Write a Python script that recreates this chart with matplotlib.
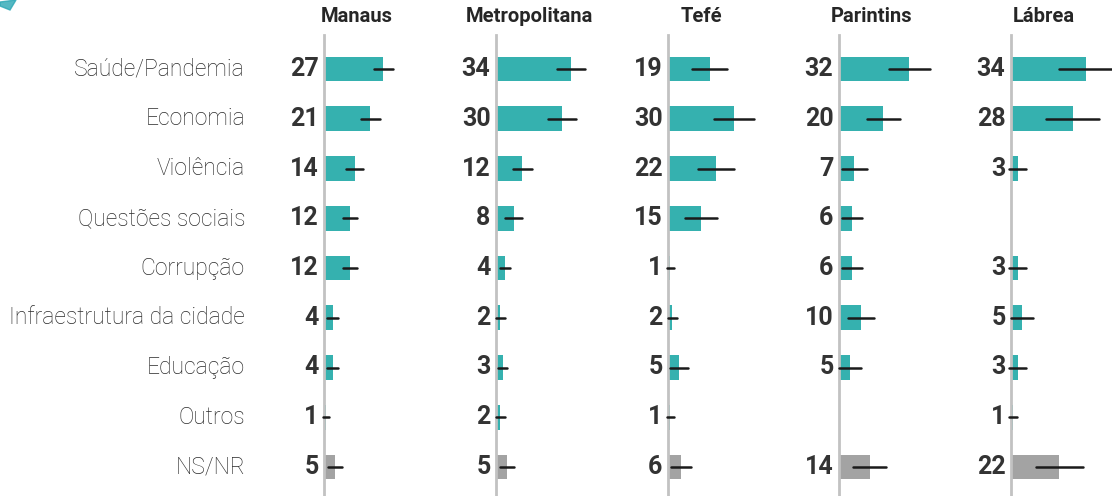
import numpy as np
import matplotlib
matplotlib.use('Agg')
import matplotlib.pyplot as plt
from matplotlib.patches import Polygon

# Categories and regions
categories = ['Saúde/Pandemia', 'Economia', 'Violência', 'Questões sociais', 'Corrupção',
              'Infraestrutura da cidade', 'Educação', 'Outros', 'NS/NR']
regions = ['Manaus', 'Metropolitana', 'Tefé', 'Parintins', 'Lábrea']

# Percent values per region (None = not shown)
manaus = [27, 21, 14, 12, 12, 4, 4, 1, 5]
metropolitana = [34, 30, 12, 8, 4, 2, 3, 2, 5]
tefe = [19, 30, 22, 15, 1, 2, 5, 1, 6]
parintins = [32, 20, 7, 6, 6, 10, 5, None, 14]
labrea = [34, 28, 3, None, 3, 5, 3, 1, 22]

# Margin of error (half-width of the black lines)
manaus_err = [4.5, 4.3, 3.9, 3.2, 3.2, 2.5, 2.5, 1.4, 3.0]
metropolitana_err = [6.5, 6.3, 4.3, 3.9, 2.3, 2.0, 2.0, 2.0, 3.2]
tefe_err = [8.0, 9.3, 8.2, 7.3, 1.5, 2.0, 4.0, 1.5, 4.5]
parintins_err = [9.5, 7.5, 5.5, 4.5, 4.5, 5.7, 4.8, None, 7.5]
labrea_err = [12.0, 12.0, 4.0, None, 4.0, 5.0, 4.0, 1.7, 10.7]

values = [manaus, metropolitana, tefe, parintins, labrea]
errors = [manaus_err, metropolitana_err, tefe_err, parintins_err, labrea_err]

W, H = 1112, 496
fig = plt.figure(figsize=(W / 100, H / 100), dpi=100)
plt.rcParams['font.family'] = ['Roboto', 'DejaVu Sans']

teal = '#35b1af'
grey = '#a3a3a3'
txt = '#333333'

# pixel layout helpers
axis_x = [324, 496, 668, 839, 1011]
ax_w = 110          # pixels for 0..50
row0, row_step = 69, 49.75
y_top = -row0 / row_step
y_bot = (H - row0) / row_step
n = len(categories)

for k, region in enumerate(regions):
    ax = fig.add_axes([axis_x[k] / W, 0, ax_w / W, 1])
    ax.set_xlim(0, 50)
    ax.set_ylim(y_bot, y_top)
    ax.axis('off')

    for i in range(n):
        v = values[k][i]
        if v is None:
            continue
        color = grey if categories[i] == 'NS/NR' else teal
        ax.barh(i, v, height=0.5, color=color, zorder=1)
        e = errors[k][i]
        ax.plot([v - e, v + e], [i, i], color='#1a1a1a', lw=1.8,
                solid_capstyle='round', zorder=3, clip_on=False)
        ax.annotate(str(v), (0, i), xytext=(-4, 0), textcoords='offset points',
                    ha='right', va='center', fontsize=18, fontweight='bold',
                    color=txt)

    # vertical baseline
    ax.plot([0, 0], [(35 - row0) / row_step, y_bot], color='#c2c2c2', lw=2,
            zorder=2, clip_on=False)
    ax.text(15, (17 - row0) / row_step, region, ha='center', va='center',
            fontsize=14.5, fontweight='bold', color='#262626')

# category labels on the left
for i, cat in enumerate(categories):
    fig.text(245 / W, 1 - (row0 + i * row_step) / H, cat, ha='right', va='center',
             fontsize=16.5, fontweight='light', color='#2b2b2b')

# bit of the cut-off logo in the top-left corner
fig.patches.append(Polygon([[0, 1 - 2 / H], [16 / W, 1], [10 / W, 1 - 10 / H], [0, 1 - 6 / H]],
                           closed=True, transform=fig.transFigure, color='#2aa7b5', alpha=0.8))

fig.savefig('out.png', dpi=100)
